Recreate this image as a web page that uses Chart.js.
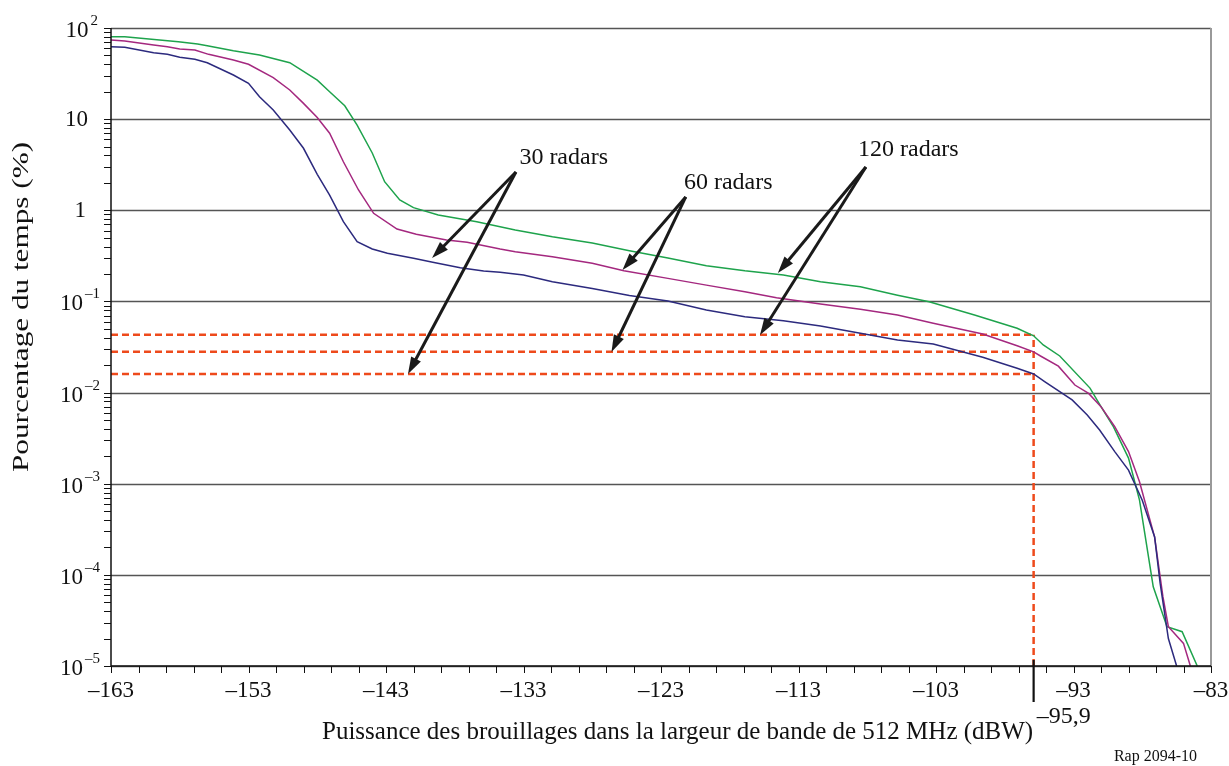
<!DOCTYPE html>
<html>
<head>
<meta charset="utf-8">
<script src="https://cdn.jsdelivr.net/npm/chart.js@4.4.1/dist/chart.umd.min.js"></script>
<style>
  html, body { margin: 0; padding: 0; background: #fff; }
  #wrap { width: 1229px; height: 766px; position: relative; }
</style>
</head>
<body>
<div id="wrap"><canvas id="chart"></canvas></div>
<script>
// 30 radars
const x30 = [-163, -162, -159.9, -158.9, -158, -156.9, -156, -154.1, -153, -152.2, -151.2, -150, -149, -148, -147.1, -146.1, -145.1, -144, -142.9, -141, -139.6, -137.6, -135.9, -134.7, -133, -130.9, -128, -125.3, -122.5, -119.7, -116.9, -114.1, -111.4, -108.5, -105.8, -103.2, -99.6, -97.1, -95.9, -95.1, -93.1, -92, -91.1, -90, -89, -88, -87.1, -86.7, -86.1, -85.5];
const y30 = [62.4, 61.4, 53.6, 51.4, 47.7, 45.4, 41.6, 30.5, 24.7, 17.6, 12.6, 7.6, 4.79, 2.48, 1.47, 0.75, 0.452, 0.376, 0.337, 0.297, 0.269, 0.234, 0.216, 0.209, 0.195, 0.164, 0.139, 0.116, 0.101, 0.0805, 0.068, 0.0614, 0.0537, 0.0447, 0.0377, 0.0341, 0.0244, 0.0185, 0.016, 0.0132, 0.0083, 0.00567, 0.00388, 0.00225, 0.00141, 0.00066, 0.00026, 0.000081, 0.00002, 0.00001];

// 60 radars
const x60 = [-163, -162, -159.9, -158.9, -158, -156.9, -155.9, -154.1, -153, -151.2, -150, -149, -148, -147.1, -146.1, -145, -143.9, -142.2, -140.8, -138.6, -137.1, -134.7, -133.6, -130.9, -128, -125.7, -122.5, -119.7, -116.9, -114.6, -111.4, -108.5, -105.8, -103.2, -99.6, -97.1, -95.9, -95.4, -94.1, -92.9, -91.9, -91, -90, -89, -88.2, -87.1, -86.5, -86.1, -85, -84.5];
const y60 = [73.9, 71.9, 65, 62.4, 58.9, 57.4, 51.4, 44.5, 40, 28.5, 20.9, 14.9, 10.4, 7.0, 3.41, 1.67, 0.927, 0.623, 0.545, 0.472, 0.446, 0.376, 0.351, 0.31, 0.262, 0.217, 0.179, 0.151, 0.128, 0.11, 0.0937, 0.082, 0.071, 0.0575, 0.044, 0.0327, 0.028, 0.0252, 0.0195, 0.0121, 0.0098, 0.007, 0.00422, 0.00225, 0.00105, 0.00026, 0.000058, 0.000027, 0.0000177, 0.00001];

// 120 radars
const x120 = [-163, -162, -158.1, -156.7, -156, -154.1, -152.2, -150, -148, -147.1, -146, -145.1, -144, -143.1, -142, -141, -139.2, -136.4, -133.6, -130.9, -128, -125.3, -122.5, -119.7, -116.9, -114.1, -111.4, -108.5, -105.8, -103.5, -100.2, -97.1, -95.9, -95.2, -94, -91.8, -91, -90.1, -89, -88.2, -87.2, -86.2, -85.1, -84];
const y120 = [80, 80, 70.8, 66.7, 64, 56.3, 50.6, 41.6, 26.8, 20, 14, 8.6, 4.25, 2.06, 1.3, 1.07, 0.887, 0.75, 0.608, 0.513, 0.438, 0.36, 0.3, 0.247, 0.217, 0.195, 0.164, 0.145, 0.117, 0.099, 0.071, 0.0507, 0.042, 0.0333, 0.0252, 0.0112, 0.007, 0.00422, 0.00191, 0.00066, 0.000074, 0.000027, 0.0000238, 0.00001];

const seriesNames = ["30 radars", "60 radars", "120 radars"];
const xMin = -163, xMax = -83;
const xMinorStep = 2;
const xTickValues = [-163, -153, -143, -133, -123, -113, -103, -93, -83];
const yExponents = [2, 1, 0, -1, -2, -3, -4, -5];

// -95,9 dBW reading and the three percentages it gives
const markerX = -95.9;
const markerLevels = [0.043, 0.028, 0.016];
const markerLabel = "\u201395,9";

const xTitle = "Puissance des brouillages dans la largeur de bande de 512 MHz (dBW)";
const yTitle = "Pourcentage du temps (%)";
const figureRef = "Rap 2094-10";

// callouts: label anchor and arrow tips, in data units
const callouts = [
  { text: "30 radars", at: [-133.3, 3.75], tail: [-133.55, 2.63], tips: [[-139.65, 0.299], [-141.4, 0.016]] },
  { text: "60 radars", at: [-121.33, 1.99], tail: [-121.2, 1.40], tips: [[-125.8, 0.221], [-126.6, 0.0279]] },
  { text: "120 radars", at: [-108.67, 4.58], tail: [-108.1, 2.98], tips: [[-114.5, 0.205], [-115.8, 0.0428]] },
];

const FONT = '"Liberation Serif", "Times New Roman", serif';
const RED = "#ee4a1c";

function pts(xs, ys) {
  return xs.map((x, i) => ({ x: x, y: ys[i] }));
}

function dashed(data) {
  return {
    data: data,
    borderColor: RED,
    borderWidth: 2.5,
    borderDash: [7, 4],
    pointRadius: 0,
  };
}

const datasets = [
  { label: seriesNames[0], data: pts(x30, y30), borderColor: "#2c2a7e", borderWidth: 1.5, pointRadius: 0 },
  { label: seriesNames[1], data: pts(x60, y60), borderColor: "#a4287f", borderWidth: 1.5, pointRadius: 0 },
  { label: seriesNames[2], data: pts(x120, y120), borderColor: "#1ea34c", borderWidth: 1.5, pointRadius: 0 },
];
markerLevels.forEach((lvl) => {
  datasets.push(dashed([{ x: xMin, y: lvl }, { x: markerX, y: lvl }]));
});
datasets.push(dashed([{ x: markerX, y: 1e-5 }, { x: markerX, y: Math.max(...markerLevels) }]));

function drawArrow(ctx, x1, y1, x2, y2) {
  const ang = Math.atan2(y2 - y1, x2 - x1);
  const len = 17, half = 5.5;
  const bx = x2 - len * Math.cos(ang), by = y2 - len * Math.sin(ang);
  ctx.beginPath();
  ctx.moveTo(x1, y1);
  ctx.lineTo(bx + 4 * Math.cos(ang), by + 4 * Math.sin(ang));
  ctx.stroke();
  ctx.beginPath();
  ctx.moveTo(x2, y2);
  ctx.lineTo(bx - half * Math.sin(ang), by + half * Math.cos(ang));
  ctx.lineTo(bx + half * Math.sin(ang), by - half * Math.cos(ang));
  ctx.closePath();
  ctx.fill();
}

const frame = {
  id: "frame",
  beforeDatasetsDraw(chart) {
    const { ctx, chartArea: a, scales: { y } } = chart;
    ctx.save();
    ctx.strokeStyle = "#555";
    ctx.lineWidth = 1.3;
    yExponents.forEach((e) => {
      const py = Math.round(y.getPixelForValue(Math.pow(10, e))) + 0.5;
      ctx.beginPath();
      ctx.moveTo(a.left, py);
      ctx.lineTo(a.right, py);
      ctx.stroke();
    });
    ctx.restore();
  },
  afterDatasetsDraw(chart) {
    const { ctx, chartArea: a, scales: { x, y } } = chart;
    ctx.save();

    // right border
    ctx.strokeStyle = "#999";
    ctx.lineWidth = 2;
    ctx.beginPath();
    ctx.moveTo(a.right, a.top);
    ctx.lineTo(a.right, a.bottom);
    ctx.stroke();

    // axes
    ctx.strokeStyle = "#111";
    ctx.lineWidth = 1.5;
    ctx.beginPath();
    ctx.moveTo(a.left, a.top);
    ctx.lineTo(a.left, a.bottom);
    ctx.lineTo(a.right, a.bottom);
    ctx.stroke();

    // y ticks (decades and minors)
    ctx.lineWidth = 1;
    for (let e = -5; e <= 2; e++) {
      for (let m = 1; m <= 9; m++) {
        const v = m * Math.pow(10, e);
        if (v > 100) break;
        const py = Math.round(y.getPixelForValue(v)) + 0.5;
        ctx.beginPath();
        ctx.moveTo(a.left - 7, py);
        ctx.lineTo(a.left, py);
        ctx.stroke();
      }
    }
    // x ticks every 2 dB
    for (let v = xMin; v <= xMax; v += xMinorStep) {
      const px = Math.round(x.getPixelForValue(v)) + 0.5;
      ctx.beginPath();
      ctx.moveTo(px, a.bottom);
      ctx.lineTo(px, a.bottom + 7);
      ctx.stroke();
    }

    // marker tick below the axis
    const mx = x.getPixelForValue(markerX);
    ctx.lineWidth = 2.2;
    ctx.beginPath();
    ctx.moveTo(mx, a.bottom - 6);
    ctx.lineTo(mx, a.bottom + 36);
    ctx.stroke();

    ctx.fillStyle = "#111";
    ctx.textBaseline = "middle";

    // x tick labels
    ctx.font = "23px " + FONT;
    ctx.textAlign = "center";
    xTickValues.forEach((v) => {
      ctx.fillText("\u2013" + Math.abs(v), x.getPixelForValue(v), a.bottom + 25);
    });

    // y tick labels with exponents
    yExponents.forEach((e) => {
      const py = y.getPixelForValue(Math.pow(10, e));
      ctx.textAlign = "right";
      if (e === 0 || e === 1) {
        ctx.font = "23px " + FONT;
        ctx.fillText(e === 0 ? "1" : "10", e === 0 ? 86 : 88, py + 1);
        return;
      }
      const sup = e < 0 ? "\u2013" + Math.abs(e) : String(e);
      ctx.font = "15px " + FONT;
      const right = e < 0 ? 100 : 98;
      const w = ctx.measureText(sup).width;
      ctx.fillText(sup, right, py - 7);
      ctx.font = "23px " + FONT;
      ctx.fillText("10", right - w - 2, py + 3);
    });

    // axis titles
    ctx.font = "25px " + FONT;
    ctx.textAlign = "left";
    ctx.fillText(xTitle, 322, 732);
    ctx.font = "24px " + FONT;
    ctx.fillText(markerLabel, mx + 3, 717);
    ctx.save();
    ctx.translate(22, 307);
    ctx.rotate(-Math.PI / 2);
    ctx.scale(1.3, 1);
    ctx.textAlign = "center";
    ctx.fillText(yTitle, 0, 0);
    ctx.restore();

    ctx.font = "16px " + FONT;
    ctx.textAlign = "right";
    ctx.fillText(figureRef, 1197, 757);

    // callouts
    ctx.strokeStyle = "#1a1a1a";
    ctx.fillStyle = "#1a1a1a";
    ctx.lineWidth = 3;
    callouts.forEach((c) => {
      const tx = x.getPixelForValue(c.tail[0]), ty = y.getPixelForValue(c.tail[1]);
      c.tips.forEach((t) => {
        drawArrow(ctx, tx, ty, x.getPixelForValue(t[0]), y.getPixelForValue(t[1]));
      });
    });
    ctx.fillStyle = "#111";
    ctx.font = "24px " + FONT;
    ctx.textAlign = "left";
    callouts.forEach((c) => {
      ctx.fillText(c.text, x.getPixelForValue(c.at[0]), y.getPixelForValue(c.at[1]));
    });

    ctx.restore();
  },
};

const chart = new Chart(document.getElementById("chart"), {
  type: "line",
  data: { datasets: datasets },
  options: {
    responsive: true,
    maintainAspectRatio: false,
    animation: false,
    devicePixelRatio: 1,
    layout: { padding: { left: 111, top: 28, right: 18, bottom: 100 } },
    elements: { line: { tension: 0 } },
    plugins: { legend: { display: false }, tooltip: { enabled: false } },
    scales: {
      x: { type: "linear", min: xMin, max: xMax, display: false },
      y: { type: "logarithmic", min: 1e-5, max: 100, display: false },
    },
  },
  plugins: [frame],
});
</script>
</body>
</html>
